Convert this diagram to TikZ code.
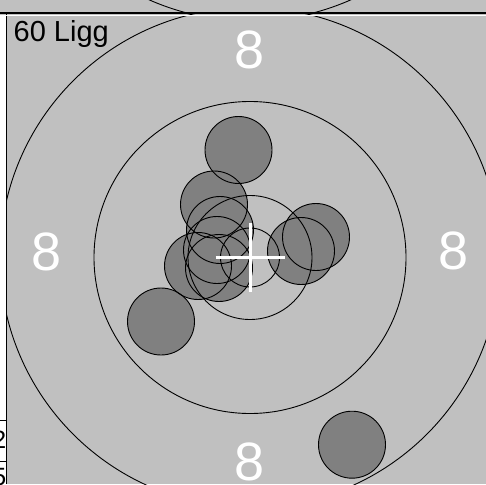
\documentclass[tikz,border=0pt]{standalone}
\usepackage{fontspec}
\setmainfont{Liberation Sans}
\definecolor{bggray}{RGB}{192,192,192}
\definecolor{shotgray}{RGB}{128,128,128}
\tikzset{
  ring/.style={draw=black, line width=0.9pt},
  shotfill/.style={fill=shotgray},
  shotline/.style={draw=black, line width=0.9pt},
  ringlabel/.style={text=white, inner sep=0pt, anchor=base, font=\fontsize{54}{54}\selectfont},
  cornerlabel/.style={text=black, inner sep=0pt, anchor=base west, font=\fontsize{29}{29}\selectfont},
  striplabel/.style={text=black, inner sep=0pt, anchor=base east, font=\fontsize{25}{25}\selectfont},
}
\begin{document}
\begin{tikzpicture}[x=1pt,y=-1pt]
\useasboundingbox (0,0) rectangle (486,484);
\fill[bggray] (0,0) rectangle (486,484);
\fill[white] (0,15) rectangle (6.7,484);
% upper target (previous card)
\begin{scope}
  \clip (0,0) rectangle (486,13.5);
  \draw[ring] (250,-229) circle[radius=250];
\end{scope}
% main target
\begin{scope}
  \clip (6.7,15) rectangle (486,484);
  \foreach \p in {(238.5,150),(214,204.5),(220,230),(217,250),(219,268),(198,266),(316,237),(301,251),(161,321.5),(352,444.7)}
    \fill[shotfill] \p circle[radius=33.5];
  \foreach \r in {29.5,62,156,250}
    \draw[ring] (250,257.5) circle[radius=\r];
  \foreach \p in {(238.5,150),(214,204.5),(220,230),(217,250),(219,268),(198,266),(316,237),(301,251),(161,321.5),(352,444.7)}
    \draw[shotline] \p circle[radius=33.5];
  \coordinate (cl) at (215.5,257.5);
  \coordinate (cr) at (284.5,257.5);
  \coordinate (ct) at (250,223);
  \coordinate (cb) at (250,292);
  \draw[white, line width=3pt] (cl) -- (cr);
  \draw[white, line width=3pt] (ct) -- (cb);
  \node[ringlabel] (ltop) at (250,69) {8};
  \node[ringlabel] (lleft) at (47,270.5) {8};
  \node[ringlabel] (lright) at (454,269) {8};
  \node[ringlabel] (lbottom) at (250,480) {8};
  \node[cornerlabel] (title) at (13.5,41.7) {60 Ligg};
\end{scope}
% left strip table fragments
\begin{scope}
  \clip (0,15) rectangle (6.2,484);
  \node[striplabel] (n2) at (6.5,448) {2};
  \node[striplabel] (n5) at (6.5,485) {5};
\end{scope}
\draw[black, line width=1.2pt] (6.7,14) -- (6.7,484);
\draw[black, line width=1pt] (0,420.7) -- (6.7,420.7);
\draw[black, line width=1pt] (0,461.7) -- (6.7,461.7);
\draw[black, line width=2pt] (0,13.5) -- (486,13.5);
\draw[white, line width=1pt] (0,15.3) -- (486,15.3);
\end{tikzpicture}
\end{document}
